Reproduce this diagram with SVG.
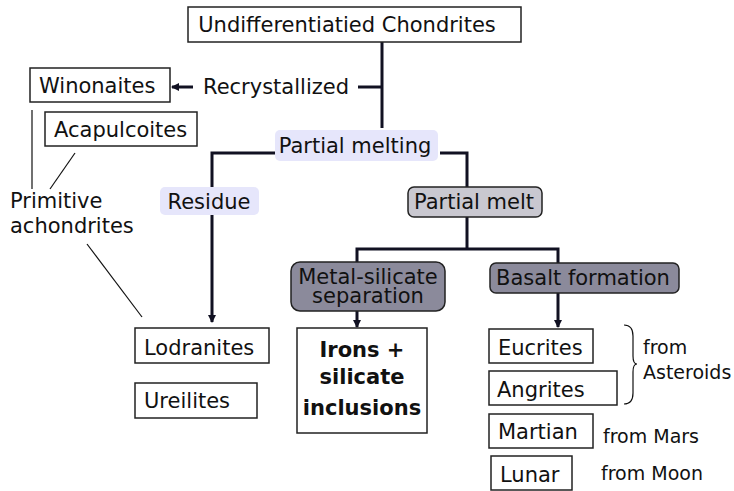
<svg xmlns="http://www.w3.org/2000/svg" width="734" height="491" viewBox="0 0 734 491">
<style>
text{font-family:"DejaVu Sans","Liberation Sans",sans-serif;font-size:21px;fill:#111;}
.box{fill:#fff;stroke:#222;stroke-width:1.5;}
.lav{fill:#e6e6fb;stroke:none;}
.g1{fill:#c9c8d0;stroke:#222;stroke-width:1.5;}
.g2{fill:#8b8a9b;stroke:#222;stroke-width:1.5;}
.con{fill:none;stroke:#111122;stroke-width:3;}
.thin{fill:none;stroke:#111;stroke-width:1.2;}
.sm{font-size:19px;}
.b{font-weight:bold;}
</style>
<defs>
<marker id="ah" markerWidth="8" markerHeight="8" refX="7" refY="4" orient="auto" markerUnits="userSpaceOnUse"><path d="M0,0 L8,4 L0,8 z" fill="#111122"/></marker>
</defs>
<g id="connectors">
<path class="con" d="M382,42 V128"/>
<path class="con" d="M382,87 H358"/>
<path class="con" d="M193,87 H172" marker-end="url(#ah)" stroke-width="2.5"/>
<path class="con" d="M275,153 H212 V322" marker-end="url(#ah)"/>
<path class="con" d="M440,153 H467 V187"/>
<path class="con" d="M467,217 V249"/>
<path class="con" d="M357,262 V249 H558 V263"/>
<path class="con" d="M357,311 V327" marker-end="url(#ah)" stroke-width="2"/>
<path class="con" d="M558,293 V327" marker-end="url(#ah)" stroke-width="2"/>
<path class="thin" d="M32,110 V189"/>
<path class="thin" d="M75,153 L50,189"/>
<path class="thin" d="M87,244 L142,317"/>
<path class="thin" stroke-width="2" d="M624,325 Q633,325 633,336 V356 Q633,364 637,364 Q633,364 633,372 V393 Q633,404 624,404"/>
</g>
<g id="n-top"><rect class="box" x="188" y="7" width="333" height="35"/><text x="347" y="32" text-anchor="middle">Undifferentiatied Chondrites</text></g>
<g id="n-recryst"><text x="203" y="94">Recrystallized</text></g>
<g id="n-winonaites"><rect class="box" x="30" y="68" width="140" height="34"/><text x="39" y="93">Winonaites</text></g>
<g id="n-acapulcoites"><rect class="box" x="45" y="112" width="152" height="34"/><text x="54" y="137">Acapulcoites</text></g>
<g id="n-primitive"><text x="10" y="208">Primitive</text><text x="10" y="233">achondrites</text></g>
<g id="n-partialmelting"><rect class="lav" x="275" y="130" width="163" height="31" rx="5"/><text x="355" y="153" text-anchor="middle">Partial melting</text></g>
<g id="n-residue"><rect class="lav" x="160" y="187" width="99" height="28" rx="5"/><text x="209" y="209" text-anchor="middle">Residue</text></g>
<g id="n-partialmelt"><rect class="g1" x="408" y="187" width="134" height="30" rx="6"/><text x="474" y="209" text-anchor="middle">Partial melt</text></g>
<g id="n-metal"><rect class="g2" x="291" y="262" width="154" height="49" rx="9"/><text x="368" y="284" text-anchor="middle">Metal-silicate</text><text x="368" y="303" text-anchor="middle">separation</text></g>
<g id="n-basalt"><rect class="g2" x="490" y="263" width="189" height="30" rx="6"/><text x="583" y="285" text-anchor="middle">Basalt formation</text></g>
<g id="n-irons"><rect class="box" x="297" y="328" width="130" height="105" stroke-width="3"/><text class="b" x="362" y="357" text-anchor="middle">Irons +</text><text class="b" x="362" y="384" text-anchor="middle">silicate</text><text class="b" x="362" y="415" text-anchor="middle">inclusions</text></g>
<g id="n-lodranites"><rect class="box" x="135" y="328" width="134" height="35"/><text x="144" y="355">Lodranites</text></g>
<g id="n-ureilites"><rect class="box" x="135" y="383" width="122" height="35"/><text x="144" y="408">Ureilites</text></g>
<g id="n-eucrites"><rect class="box" x="489" y="329" width="104" height="34"/><text x="498" y="355">Eucrites</text></g>
<g id="n-angrites"><rect class="box" x="489" y="371" width="128" height="34"/><text x="497" y="397">Angrites</text></g>
<g id="n-martian"><rect class="box" x="489" y="414" width="104" height="34"/><text x="498" y="439">Martian</text></g>
<g id="n-lunar"><rect class="box" x="491" y="456" width="81" height="34"/><text x="500" y="482">Lunar</text></g>
<g id="n-asteroids"><text class="sm" x="643" y="354">from</text><text class="sm" x="643" y="379">Asteroids</text></g>
<g id="n-mars"><text class="sm" x="603" y="443">from Mars</text></g>
<g id="n-moon"><text class="sm" x="601" y="480">from Moon</text></g>
</svg>
